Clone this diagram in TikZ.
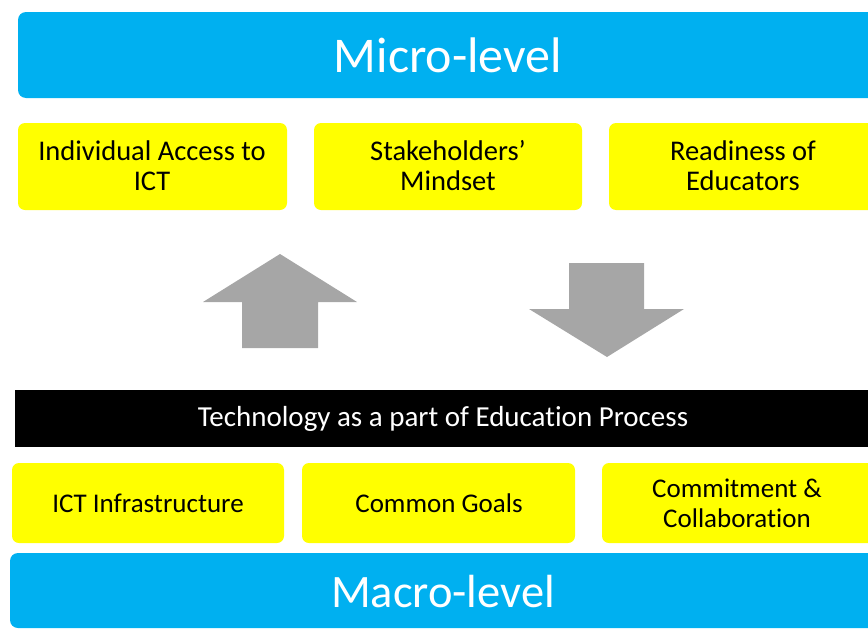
\documentclass[tikz,border=0pt]{standalone}
\usepackage{fontspec}
\setmainfont[Ligatures={NoCommon}]{Carlito}
\definecolor{lvlblue}{HTML}{00B0F0}
\definecolor{boxyellow}{HTML}{FFFF00}
\definecolor{arrgray}{HTML}{A6A6A6}
\begin{document}
\begin{tikzpicture}[x=1pt,y=-1pt,
  level/.style={fill=lvlblue,rounded corners=8pt,draw=none},
  factor/.style={fill=boxyellow,rounded corners=7pt,draw=none},
  bigtxt/.style={text=white,font=\fontsize{50}{54}\selectfont},
  boxtxt/.style={text=black,align=center,font=\fontsize{28.5}{30}\selectfont},
  lowtxt/.style={text=black,align=center,font=\fontsize{27}{30}\selectfont},
  bartxt/.style={text=white,font=\fontsize{29}{32}\selectfont},
  bigarrow/.style={fill=arrgray,draw=none}]
\useasboundingbox (0,0) rectangle (868,632);
\clip (0,0) rectangle (868,632);
% top level
\fill[level] (18,12) rectangle (890,98);
\node[bigtxt] (micro) at (448,55) {Micro-level};
% micro factors
\fill[factor] (18,123) rectangle (287,210);
\node[boxtxt] (f1) at (152,166) {Individual Access to\\ICT};
\fill[factor] (314,123) rectangle (582,210);
\node[boxtxt] (f2) at (448,166) {Stakeholders’\\Mindset};
\fill[factor] (609,123) rectangle (890,210);
\node[boxtxt] (f3) at (743,166) {Readiness of\\Educators};
% arrows
\fill[bigarrow] (280,254) -- (357,302) -- (318,302) -- (318,348) -- (242,348) -- (242,302) -- (203,302) -- cycle;
\fill[bigarrow] (569,263) -- (644,263) -- (644,309) -- (684,309) -- (607,357) -- (529,309) -- (569,309) -- cycle;
% black bar
\fill[black] (15,390) rectangle (890,447);
\node[bartxt] (tech) at (443,419) {Technology as a part of Education Process};
% macro factors
\fill[factor] (12,463) rectangle (284,543);
\node[lowtxt] (g1) at (148,503) {ICT Infrastructure};
\fill[factor] (302,463) rectangle (575,543);
\node[lowtxt] (g2) at (439,503) {Common Goals};
\fill[factor] (602,463) rectangle (890,543);
\node[lowtxt] (g3) at (737,503) {Commitment \&\\Collaboration};
% bottom level
\fill[level] (10,553) rectangle (890,628);
\node[bigtxt,font=\fontsize{46.5}{52}\selectfont] (macro) at (443,592) {Macro-level};
\end{tikzpicture}
\end{document}
